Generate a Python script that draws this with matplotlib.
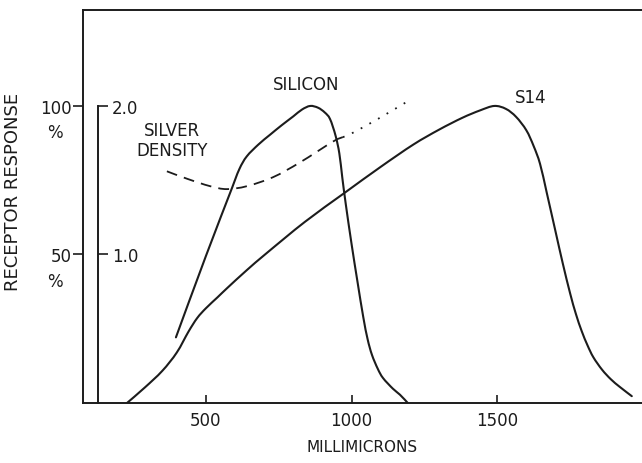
import matplotlib
matplotlib.use("Agg")
import matplotlib.pyplot as plt
import numpy as np
from matplotlib.path import Path
from matplotlib.patches import PathPatch
from matplotlib.ticker import FixedLocator

plt.rcParams['font.family'] = ['DejaVu Sans']

INK = '#1c1c1c'

# Silicon receptor response (%), wavelength in millimicrons
silicon_wl = [397, 500, 590, 615, 640, 680, 720, 760, 800, 830, 858, 885,
              908, 926, 945, 958, 968, 980, 1000, 1020, 1040, 1055, 1070,
              1090, 1108, 1142, 1166, 1193]
silicon_resp = [22.1, 49.5, 72.5, 78.8, 83.0, 87.0, 90.3, 93.5, 96.5, 98.8,
                100.0, 99.4, 97.8, 95.6, 90.0, 84.0, 76.0, 67.0, 53.5, 41.0,
                29.0, 21.5, 16.2, 11.5, 8.4, 4.8, 2.8, 0.0]

# S14 receptor response (%)
s14_wl = [229, 290, 350, 400, 440, 470, 500, 540, 572, 640, 709, 840, 974,
          1100, 1212, 1300, 1380, 1441, 1490, 1530, 1565, 1600, 1625, 1647,
          1670, 1700, 1725, 1750, 1770, 1790, 1810, 1830, 1860, 1890, 1921,
          1962]
s14_resp = [0.0, 5.2, 10.8, 17.0, 24.0, 28.6, 31.9, 35.6, 38.6, 44.7, 50.5,
            61.0, 70.6, 79.5, 87.0, 92.0, 96.0, 98.5, 100.0, 99.0, 96.3, 91.8,
            86.5, 80.5, 70.8, 57.8, 47.0, 37.0, 30.0, 24.2, 19.4, 15.4, 11.2,
            8.0, 5.4, 2.3]

# Silver density (measured part dashed, extrapolated part dotted)
silver_wl = [366, 435, 514, 572, 641, 730, 823, 936, 970]
silver_density = [1.56, 1.51, 1.46, 1.44, 1.46, 1.52, 1.62, 1.76, 1.79]
silver_ext_wl = [970, 1005, 1097, 1200]
silver_ext_density = [1.79, 1.82, 1.92, 2.04]

x_ticks = [500, 1000, 1500]
x_tick_labels = ['500', '1000', '1500']
resp_ticks = [50, 100]
resp_tick_labels = ['50', '100']
density_ticks = [1.0, 2.0]
density_tick_labels = ['1.0', '2.0']


def smooth_curve(axis, xs, ys, **style):
    """Draw a smooth curve through the given points (Catmull-Rom as Bezier)."""
    disp = axis.transData.transform(np.column_stack([xs, ys]))
    n = len(disp)
    verts = [disp[0]]
    codes = [Path.MOVETO]
    for i in range(n - 1):
        p0 = disp[i - 1] if i > 0 else disp[i]
        p1, p2 = disp[i], disp[i + 1]
        p3 = disp[i + 2] if i + 2 < n else disp[i + 1]
        c1 = p1 + (p2 - p0) / 6.0
        c2 = p2 - (p3 - p1) / 6.0
        verts += [c1, c2, p2]
        codes += [Path.CURVE4] * 3
    verts = axis.transData.inverted().transform(np.array(verts))
    patch = PathPatch(Path(verts, codes), fill=False, **style)
    axis.add_patch(patch)
    return patch


W, H = 642, 464
fig = plt.figure(figsize=(W / 100, H / 100), dpi=100)
fig.patch.set_facecolor('white')

left_px, bottom_px, top_px = 83, 404, 11
ax = fig.add_axes([left_px / W, 1 - bottom_px / H, 1 - left_px / W,
                   (bottom_px - top_px) / H])
ax.set_xlim(78, 1997)
ax.set_ylim(0, 132.3)

ax2 = ax.twinx()
ax2.set_ylim(0, 132.3 / 50)

lw = 1.5
smooth_curve(ax, silicon_wl, silicon_resp, edgecolor=INK, lw=lw,
             capstyle='round')
smooth_curve(ax, s14_wl, s14_resp, edgecolor=INK, lw=lw, capstyle='round')
smooth_curve(ax2, silver_wl, silver_density, edgecolor=INK, lw=1.3,
             ls=(0, (6, 4)))
smooth_curve(ax2, silver_ext_wl, silver_ext_density, edgecolor=INK, lw=1.3,
             ls=(0, (1, 4.5)))

for side in ['left', 'bottom', 'top']:
    ax.spines[side].set_linewidth(1.4)
    ax.spines[side].set_color(INK)
ax.spines['right'].set_visible(False)

ax.xaxis.set_major_locator(FixedLocator(x_ticks))
ax.set_xticklabels(x_tick_labels)
ax.tick_params(axis='x', direction='in', length=6, width=1.2, colors=INK,
               labelsize=12, pad=6)
ax.yaxis.set_major_locator(FixedLocator(resp_ticks))
ax.set_yticklabels(resp_tick_labels)
ax.tick_params(axis='y', direction='out', length=7, width=1.2, colors=INK,
               labelsize=12, pad=1)
ax.set_xlabel('MILLIMICRONS', fontsize=11, color=INK, labelpad=7)
ax.set_ylabel('RECEPTOR RESPONSE', fontsize=13, color=INK)
ax.yaxis.set_label_coords(-0.109, 0.54)

# percent signs under the response tick labels
for v in resp_ticks:
    ax.annotate('%', xy=(0, v), xycoords=('axes fraction', 'data'),
                xytext=(-20, -19), textcoords='offset points',
                ha='center', va='center', fontsize=12, color=INK)

# silver density scale
for side in ['left', 'top', 'bottom']:
    ax2.spines[side].set_visible(False)
ax2.spines['right'].set_position(('data', 129))
ax2.spines['right'].set_bounds(0, 2.0)
ax2.spines['right'].set_linewidth(1.4)
ax2.spines['right'].set_color(INK)
ax2.yaxis.set_major_locator(FixedLocator(density_ticks))
ax2.set_yticklabels(density_tick_labels)
ax2.tick_params(axis='y', direction='out', length=7, width=1.2, colors=INK,
                labelsize=12, pad=3)

ax.text(843, 107.5, 'SILICON', ha='center', va='center', fontsize=12,
        color=INK)
ax.text(383, 88.5, 'SILVER\nDENSITY', ha='center', va='center', fontsize=12,
        color=INK, linespacing=1.15)
ax.text(1616, 103, 'S14', ha='center', va='center', fontsize=12, color=INK)

fig.savefig('out.png', dpi=100)
